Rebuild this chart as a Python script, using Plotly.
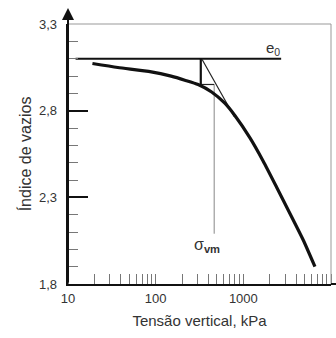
import plotly.graph_objects as go

# Curve (log x)
sigma = [19, 37, 89, 150, 215, 305, 435, 615, 800, 1190, 1680, 2390, 3400, 4820, 6560]
e_curve = [3.072, 3.049, 3.024, 2.999, 2.976, 2.951, 2.908, 2.843, 2.772, 2.643, 2.510, 2.360, 2.207, 2.054, 1.900]

# e0 line
e0_x = [12.2, 2700]
e0_y = [3.10, 3.10]

# Casagrande construction
vert_x = [327, 327]
vert_y = [3.10, 2.951]
horiz_x = [327, 465]
horiz_y = [2.951, 2.951]
tang_x = [335, 790]
tang_y = [3.10, 2.765]
svm_x = [465, 465]
svm_y = [2.951, 2.09]

y_tickvals = [1.8, 2.3, 2.8, 3.3]
y_ticktext = ["1,8", "2,3", "2,8", "3,3"]
y_major = [2.3, 2.8]
x_tickvals = [10, 100, 1000]
x_ticktext = ["10", "100", "1000"]

FONT = "Liberation Sans, Arial, sans-serif"
TXT = "#333333"

fig = go.Figure()
fig.add_trace(go.Scatter(x=e0_x, y=e0_y, mode="lines", line=dict(color="#111", width=2), hoverinfo="skip"))
fig.add_trace(go.Scatter(x=svm_x, y=svm_y, mode="lines", line=dict(color="#888", width=1), hoverinfo="skip"))
fig.add_trace(go.Scatter(x=horiz_x, y=horiz_y, mode="lines", line=dict(color="#222", width=1.2), hoverinfo="skip"))
fig.add_trace(go.Scatter(x=tang_x, y=tang_y, mode="lines", line=dict(color="#222", width=1.2), hoverinfo="skip"))
fig.add_trace(go.Scatter(x=vert_x, y=vert_y, mode="lines", line=dict(color="#111", width=2.2), hoverinfo="skip"))
fig.add_trace(go.Scatter(x=sigma, y=e_curve, mode="lines", line=dict(color="#111", width=3.2, shape="spline", smoothing=0.6), hoverinfo="skip"))
# invisible trace to activate overlay axis carrying the labels
fig.add_trace(go.Scatter(x=[sigma[0]], y=[e_curve[0]], yaxis="y2", mode="markers", marker=dict(opacity=0), hoverinfo="skip"))

fig.update_layout(
    width=336, height=338,
    margin=dict(l=68, r=5, t=24, b=54),
    paper_bgcolor="white", plot_bgcolor="white",
    showlegend=False,
    font=dict(family=FONT, color=TXT, size=13),
    xaxis=dict(
        type="log", range=[1, 4],
        tickvals=x_tickvals, ticktext=x_ticktext,
        ticks="", showgrid=False, zeroline=False,
        showline=True, linecolor="#111", linewidth=2,
        tickfont=dict(size=13, color=TXT),
        ticklabelstandoff=1,
        minor=dict(ticks="inside", ticklen=10, tickcolor="#777", tickwidth=1, dtick="D1", showgrid=False),
        title=dict(text="Tensão vertical, kPa", font=dict(size=15, color=TXT), standoff=11),
    ),
    yaxis=dict(
        range=[1.8, 3.3],
        tickvals=y_major, showticklabels=False,
        ticks="inside", ticklen=20, tickwidth=2, tickcolor="#111",
        showgrid=False, zeroline=False,
        showline=True, linecolor="#111", linewidth=2,
        minor=dict(ticks="inside", ticklen=10, tickcolor="#777", tickwidth=1, dtick=0.1, showgrid=False),
    ),
    yaxis2=dict(
        range=[1.8, 3.3], overlaying="y", side="left", anchor="x",
        tickvals=y_tickvals, ticktext=y_ticktext, ticks="",
        tickfont=dict(size=13, color=TXT),
        ticklabelstandoff=10,
        showgrid=False, zeroline=False, showline=False,
        title=dict(text="Índice de vazios", font=dict(size=16, color=TXT), standoff=3),
    ),
    shapes=[
        dict(type="line", xref="paper", yref="paper", x0=0, x1=1, y0=1, y1=1, line=dict(color="#999", width=1)),
        dict(type="line", xref="paper", yref="paper", x0=1, x1=1, y0=0, y1=1, line=dict(color="#999", width=1)),
        dict(type="line", xref="paper", yref="paper", x0=1, x1=1.02, y0=0, y1=0, line=dict(color="#111", width=2)),
    ],
    annotations=[
        dict(xref="paper", yref="paper", x=0, y=1.062, ax=0, ay=276, axref="pixel", ayref="pixel",
             showarrow=True, arrowhead=2, arrowsize=1.2, arrowwidth=2, arrowcolor="#111", text=""),
        dict(x=3.34, y=3.16, xref="x", yref="y", text="e<sub>0</sub>", showarrow=False,
             font=dict(size=15, color=TXT), xanchor="center", yanchor="middle"),
        dict(x=2.585, y=2.025, xref="x", yref="y", text="σ<sub><b>vm</b></sub>", showarrow=False,
             font=dict(size=16, color=TXT), xanchor="center", yanchor="middle"),
    ],
)

fig.write_html("out.html", config={"displayModeBar": False},
               post_script="document.body.style.margin='0px';")
